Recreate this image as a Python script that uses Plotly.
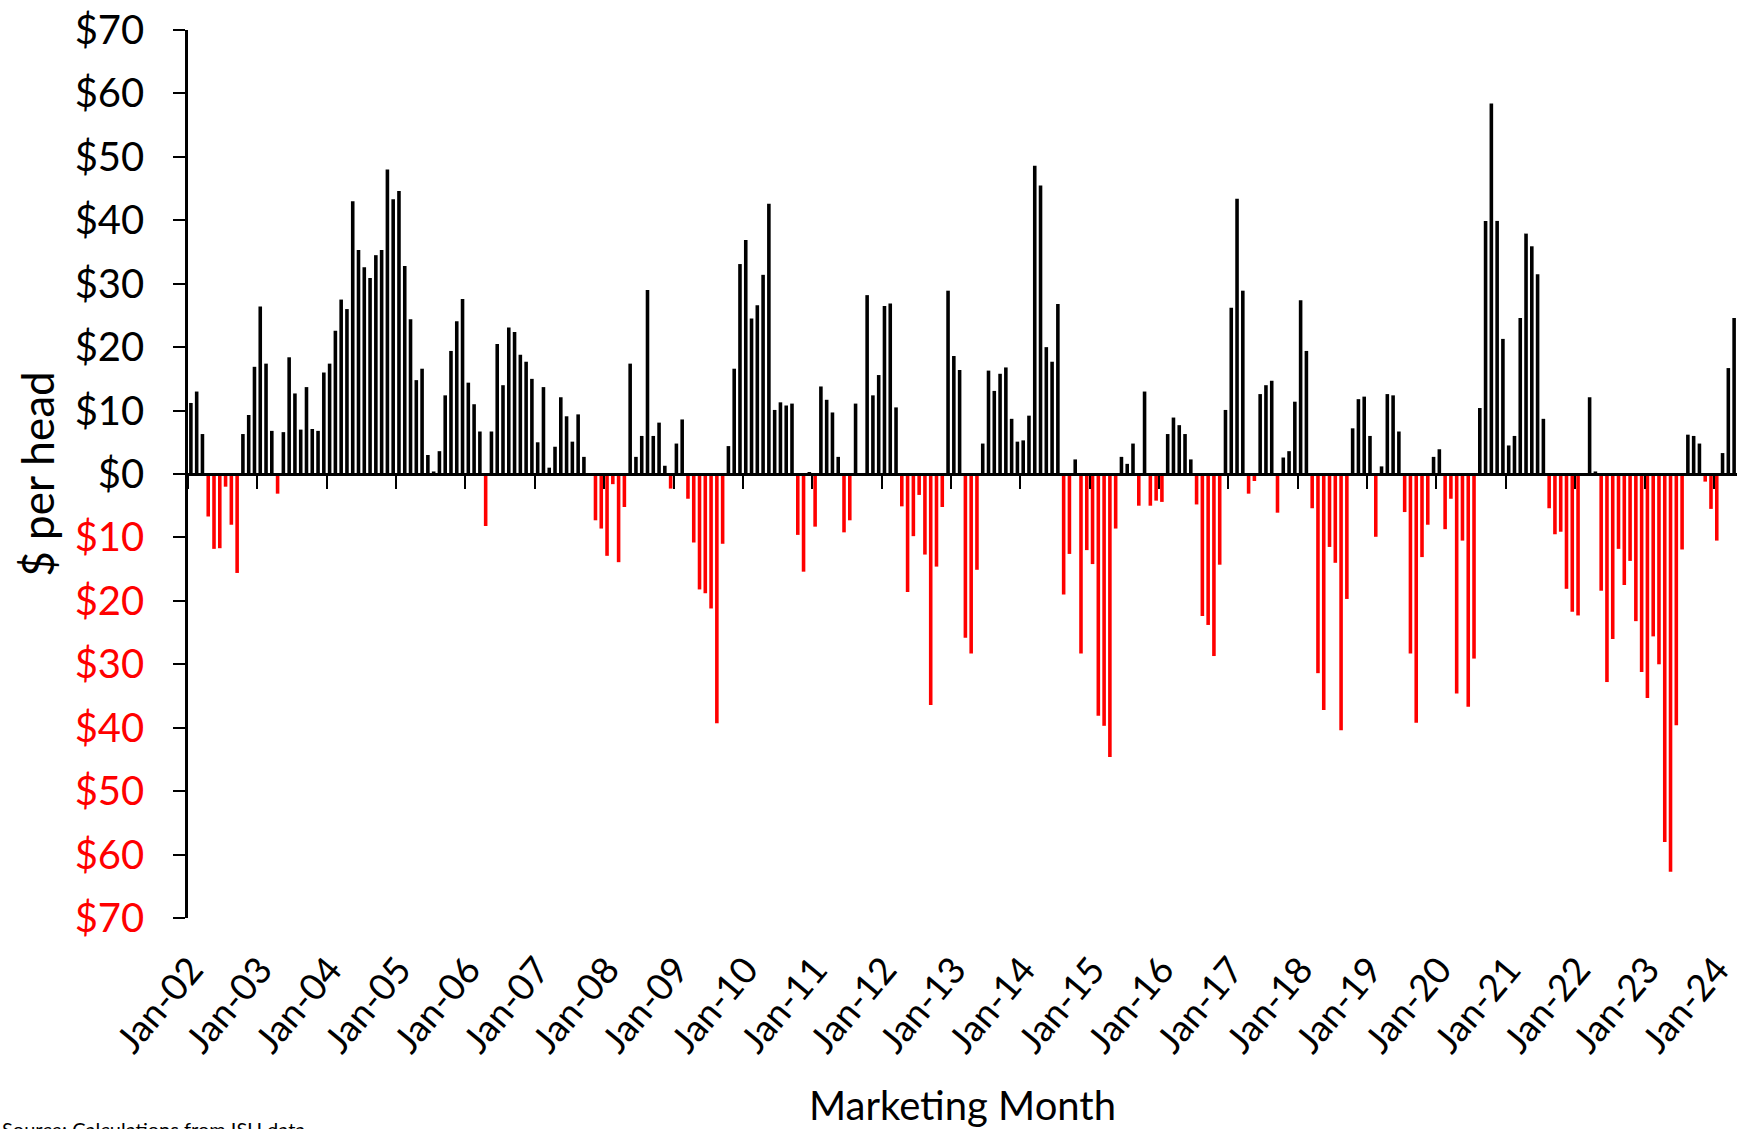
import plotly.graph_objects as go

# Monthly values, $ per head, Jan-2002 .. Apr-2024 (one row per year)
y2002 = [11.2, 13.0, 6.3, -6.7, -11.8, -11.7, -2.0, -8.0, -15.6, 6.3, 9.3, 16.9]
y2003 = [26.4, 17.4, 6.8, -3.1, 6.6, 18.4, 12.7, 7.0, 13.7, 7.1, 6.8, 16.0]
y2004 = [17.4, 22.6, 27.5, 26.0, 43.0, 35.3, 32.6, 30.9, 34.5, 35.3, 48.0, 43.3]
y2005 = [44.6, 32.8, 24.4, 14.8, 16.6, 3.0, 0.4, 3.6, 12.4, 19.4, 24.1, 27.6]
y2006 = [14.4, 11.0, 6.7, -8.2, 6.7, 20.5, 14.0, 23.1, 22.4, 18.8, 17.7, 15.0]
y2007 = [5.0, 13.7, 1.0, 4.3, 12.1, 9.1, 5.1, 9.4, 2.7, 0.0, -7.3, -8.6]
y2008 = [-12.9, -1.6, -13.9, -5.2, 17.4, 2.7, 6.0, 29.0, 6.0, 8.1, 1.3, -2.3]
y2009 = [4.8, 8.6, -3.9, -10.8, -18.2, -18.8, -21.2, -39.3, -11.0, 4.4, 16.6, 33.1]
y2010 = [36.9, 24.5, 26.6, 31.4, 42.6, 10.1, 11.3, 10.8, 11.1, -9.6, -15.4, 0.3]
y2011 = [-8.3, 13.8, 11.7, 9.7, 2.7, -9.2, -7.3, 11.1, 0.0, 28.2, 12.4, 15.6]
y2012 = [26.5, 26.9, 10.5, -5.1, -18.6, -9.8, -3.3, -12.7, -36.4, -14.6, -5.2, 28.9]
y2013 = [18.6, 16.4, -25.8, -28.3, -15.1, 4.8, 16.3, 13.1, 15.8, 16.8, 8.7, 5.1]
y2014 = [5.3, 9.2, 48.6, 45.5, 20.0, 17.7, 26.8, -19.0, -12.6, 2.3, -28.3, -12.0]
y2015 = [-14.2, -38.1, -39.7, -44.6, -8.6, 2.7, 1.6, 4.8, -5.0, 13.0, -5.0, -4.2]
y2016 = [-4.4, 6.3, 8.9, 7.7, 6.3, 2.3, -4.8, -22.4, -23.8, -28.7, -14.3, 10.1]
y2017 = [26.2, 43.4, 28.9, -3.1, -1.1, 12.6, 14.0, 14.7, -6.1, 2.6, 3.6, 11.4]
y2018 = [27.4, 19.4, -5.4, -31.4, -37.2, -11.5, -14.0, -40.4, -19.7, 7.2, 11.8, 12.2]
y2019 = [6.0, -9.9, 1.2, 12.6, 12.4, 6.7, -6.0, -28.3, -39.2, -13.1, -8.0, 2.7]
y2020 = [3.9, -8.7, -3.9, -34.6, -10.5, -36.7, -29.1, 10.4, 39.9, 58.4, 39.9, 21.3]
y2021 = [4.5, 6.0, 24.6, 37.9, 35.9, 31.5, 8.7, -5.4, -9.5, -9.1, -18.1, -21.7]
y2022 = [-22.3, 0.0, 12.1, 0.4, -18.4, -32.8, -26.0, -11.8, -17.5, -13.7, -23.2, -31.2]
y2023 = [-35.3, -25.6, -30.0, -58.0, -62.7, -39.6, -11.9, 6.2, 6.0, 4.8, -1.2, -5.5]
y2024 = [-10.5, 3.3, 16.7, 24.6]

years = [y2002, y2003, y2004, y2005, y2006, y2007, y2008, y2009, y2010, y2011, y2012,
         y2013, y2014, y2015, y2016, y2017, y2018, y2019, y2020, y2021, y2022, y2023, y2024]

year_labels = ["Jan-02", "Jan-03", "Jan-04", "Jan-05", "Jan-06", "Jan-07", "Jan-08", "Jan-09",
               "Jan-10", "Jan-11", "Jan-12", "Jan-13", "Jan-14", "Jan-15", "Jan-16", "Jan-17",
               "Jan-18", "Jan-19", "Jan-20", "Jan-21", "Jan-22", "Jan-23", "Jan-24"]

y_ticks = [70, 60, 50, 40, 30, 20, 10, 0, -10, -20, -30, -40, -50, -60, -70]

values = [v for yr in years for v in yr]
idx = list(range(len(values)))
jan_idx = [12 * k for k in range(len(year_labels))]

colors = ["#FF0000" if v < 0 else "#000000" for v in values]

FONT = "Lato"

fig = go.Figure()
fig.add_trace(go.Bar(x=idx, y=values, marker=dict(color=colors, line=dict(width=0)),
                     xaxis="x", yaxis="y", showlegend=False))
# invisible companion trace that carries the zero-crossing axis
fig.add_trace(go.Scatter(x=idx, y=[0] * len(idx), mode="lines", line=dict(width=0),
                         hoverinfo="skip", xaxis="x2", yaxis="y", showlegend=False))


def ylab(v):
    if v < 0:
        return '<span style="color:#FF0000">$%d</span>' % abs(v)
    return "$%d" % v


fig.update_layout(
    width=1744, height=1129,
    margin=dict(l=188, r=7, t=30, b=211),
    paper_bgcolor="white", plot_bgcolor="white",
    bargap=0.38,
    font=dict(family=FONT, color="black"),
    xaxis=dict(
        range=[-0.5, len(values) - 0.5],
        tickvals=jan_idx, ticktext=year_labels,
        tickangle=-50, tickfont=dict(size=37, family=FONT, color="black"),
        showline=False, showgrid=False, zeroline=False, automargin=False,
        ticks="outside", ticklen=14, tickcolor="rgba(0,0,0,0)",
        title=dict(text="Marketing Month", font=dict(size=40, family=FONT), standoff=34),
    ),
    xaxis2=dict(
        overlaying="x", matches="x", anchor="free", position=0.5,
        range=[-0.5, len(values) - 0.5],
        tickvals=[j - 0.5 for j in jan_idx], showticklabels=False,
        showline=True, linecolor="black", linewidth=2.5, automargin=False,
        ticks="outside", ticklen=13, tickwidth=2, tickcolor="black",
        showgrid=False, zeroline=False,
    ),
    yaxis=dict(
        range=[-70, 70], tickvals=y_ticks, ticktext=[ylab(v) for v in y_ticks],
        tickfont=dict(size=40, family=FONT, color="black"),
        showline=True, linecolor="black", linewidth=2.5, automargin=False,
        ticks="outside", ticklen=12, tickwidth=2, tickcolor="black",
        showgrid=False, zeroline=False, ticklabelstandoff=21,
        title=dict(text="$ per head", font=dict(size=44, family=FONT), standoff=7),
    ),
    annotations=[dict(
        text="Source: Calculations from ISU data",
        xref="paper", yref="paper", x=0, y=0, xanchor="left", yanchor="top",
        xshift=-188, yshift=-197, showarrow=False,
        font=dict(size=20, family=FONT, color="black"),
    )],
)

fig.write_html("out.html", config={"displayModeBar": False},
               post_script="document.body.style.margin='0px';")
